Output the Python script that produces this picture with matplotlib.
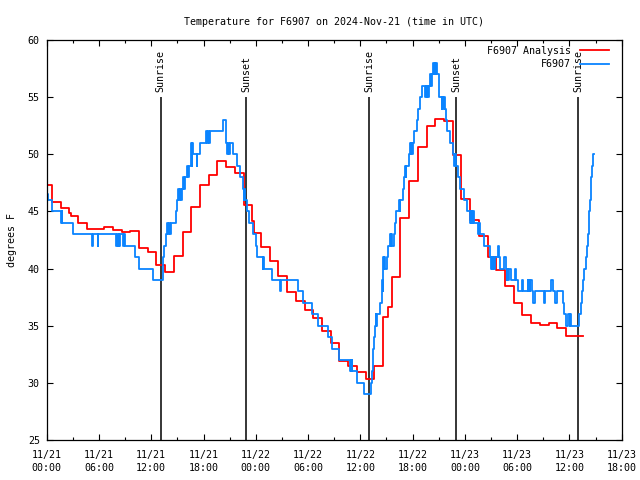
import matplotlib
matplotlib.use("Agg")
import matplotlib.pyplot as plt
import matplotlib.dates as mdates
import pandas as pd

# ---------------- data (hours after 2024-11-21 00:00 UTC) ----------------
base = pd.Timestamp("2024-11-21 00:00")

# F6907 Analysis: hourly values, each starting at hh:36
analysis_hours = [-0.4, 0.6, 1.6, 2.6, 2.75, 3.6, 4.6, 5.6, 6.6, 7.6, 8.6, 9.6,
                  10.6, 11.6, 12.6, 13.6, 14.6, 15.6, 16.6, 17.6, 18.6, 19.6,
                  20.6, 21.6, 22.6, 23.6, 23.75, 24.6, 25.6, 26.6, 27.6, 28.6,
                  29.6, 30.6, 31.6, 32.6, 33.6, 34.6, 35.6, 36.6, 37.6, 38.6,
                  39.2, 39.6, 40.6, 41.6, 42.6, 43.6, 44.6, 45.6, 46.6, 47.6,
                  48.6, 49.6, 50.6, 51.6, 52.6, 53.6, 54.6, 55.6, 56.6, 57.6,
                  58.6, 59.6, 60.6, 61.6]
analysis_temps = [47.3, 45.8, 45.3, 44.9, 44.6, 44.0, 43.5, 43.5, 43.6, 43.4, 43.2, 43.25,
                  41.8, 41.43, 40.3, 39.73, 41.1, 43.2, 45.36, 47.3, 48.2, 49.4,
                  48.86, 48.4, 45.56, 44.2, 43.1, 41.86, 40.66, 39.35, 37.92, 37.16,
                  36.38, 35.65, 34.54, 33.46, 31.92, 31.48, 30.92, 30.34, 31.48, 35.8,
                  36.6, 39.3, 44.4, 47.66, 50.67, 52.5, 53.09, 52.9, 49.94, 46.06,
                  44.25, 42.85, 41.04, 39.88, 38.5, 36.96, 35.94, 35.27, 35.07, 35.21,
                  34.77, 34.1, 34.1, 34.1]

# F6907 observations
obs_hours = [0.00, 0.11, 0.61, 1.64, 1.70, 1.76, 2.98,
             5.24, 5.32, 5.85, 5.93,
             7.96, 8.05, 8.15, 8.25, 8.33, 8.42, 8.80, 8.88, 8.99,
             10.14, 10.64, 12.24,
             13.32, 13.40, 13.50, 13.70, 13.85, 13.96, 14.05, 14.15, 14.25,
             14.84, 15.00, 15.11, 15.20, 15.30, 15.40, 15.49,
             15.69, 15.79, 15.89, 16.14, 16.20,
             16.37, 16.60, 16.66, 16.72, 16.78, 17.20, 17.26, 17.65,
             18.30, 18.44, 18.52, 18.60, 18.70, 20.28,
             20.59, 20.74, 20.82, 20.90, 21.05, 21.43, 21.88, 22.19,
             22.50, 22.60, 22.66, 22.77, 22.96, 23.19, 23.72, 24.00, 24.18,
             24.80, 24.85, 24.95, 25.83, 26.79, 26.90, 28.89, 29.45,
             30.42, 31.18, 32.33, 32.72, 33.59, 34.82, 34.88, 34.95, 35.00, 35.09,
             35.59, 36.45, 37.20, 37.35, 37.42, 37.50, 37.58, 37.70, 37.77, 37.82, 37.87,
             38.27, 38.46, 38.52, 38.55, 38.59, 38.65, 38.70, 38.76, 38.82,
             39.03, 39.22, 39.41, 39.50, 39.55, 39.60, 39.87, 39.95, 40.10,
             40.49, 40.55, 40.61, 40.87, 41.02, 41.17, 41.22, 41.28, 41.63,
             41.71, 41.78, 41.86, 41.94, 42.02, 42.17, 42.48, 42.66, 42.86, 43.05,
             43.43, 43.50, 43.63, 43.70, 43.78, 43.85, 44.00, 44.08, 44.20,
             44.39, 44.45, 44.55, 44.62, 44.70, 44.85, 45.08,
             45.35, 45.42, 45.50, 45.58, 45.73, 45.84, 45.99,
             46.33, 46.58, 46.80, 46.88, 46.96, 47.26, 47.45, 47.95, 48.30,
             48.60, 48.66, 48.72, 48.79, 48.86, 48.98, 49.05,
             49.56, 49.62, 49.68, 50.21,
             50.90, 51.00, 51.08, 51.16, 51.24, 51.32, 51.40, 51.85, 51.92,
             52.05, 52.50, 52.73, 52.80, 52.89, 52.97, 53.05, 53.27,
             53.77, 53.88, 54.04, 54.53, 54.62, 55.19, 55.27, 55.35, 55.42, 55.49,
             55.68, 55.87, 56.07, 57.10, 57.22, 57.90, 58.17, 58.40, 58.55,
             59.24, 59.39, 59.62, 59.78, 60.01, 60.08, 60.16,
             61.08, 61.31, 61.50, 61.60, 61.69, 61.88, 62.00, 62.11,
             62.23, 62.38, 62.49, 62.61, 62.76, 62.84]
obs_temps = [46.5, 46, 45, 44, 45, 44, 43,
             42, 43, 42, 43,
             42, 43, 42, 43, 42, 43, 42, 43, 42,
             41, 40, 39,
             40, 41, 42, 43, 44, 43, 44, 43, 44,
             45, 46, 47, 46, 47, 46, 47,
             48, 47, 48, 49, 48,
             49, 51, 49, 51, 50, 49, 50, 51,
             52, 51, 52, 51, 52, 53,
             51, 50, 51, 50, 51, 50, 49, 48,
             47, 46, 47, 46, 45, 44, 43, 42, 41,
             40, 41, 40, 39, 38, 39, 38, 37,
             36, 35, 34, 33, 32, 31, 32, 31, 32, 31,
             30, 29, 30, 31, 32, 33, 34, 35, 36, 35, 36,
             37, 38, 39, 38, 39, 41, 40, 41, 40,
             41, 42, 43, 42, 43, 42, 43, 44, 45,
             46, 45, 46, 47, 48, 49, 48, 49, 50,
             51, 50, 51, 50, 51, 52, 53, 54, 55, 56,
             55, 56, 55, 56, 55, 56, 57, 56, 57,
             58, 57, 58, 57, 58, 57, 55,
             54, 55, 54, 55, 54, 53, 52,
             51, 50, 49, 50, 49, 48, 47, 46, 45,
             44, 45, 44, 45, 44, 45, 44,
             43, 44, 43, 42,
             41, 40, 41, 40, 41, 40, 41, 42, 41,
             40, 41, 40, 39, 40, 39, 40, 39,
             40, 39, 38, 39, 38, 39, 38, 39, 38, 39,
             38, 37, 38, 37, 38, 39, 38, 37, 38,
             37, 36, 35, 36, 35, 36, 35,
             36, 37, 38, 39, 40, 41, 42, 43,
             45, 46, 48, 49, 50, 50]

sun_events = ["2024-11-21 13:04", "2024-11-21 22:55", "2024-11-22 13:02",
              "2024-11-22 22:58", "2024-11-23 13:02"]
sun_labels = ["Sunrise", "Sunset", "Sunrise", "Sunset", "Sunrise"]

title = "Temperature for F6907 on 2024-Nov-21 (time in UTC)"
ylabel = "degrees F"
series_labels = ["F6907 Analysis", "F6907"]
colors = ["#ff0000", "#0a84ff"]

# ---------------- plot ----------------
plt.rcParams["font.family"] = ["DejaVu Sans Mono"]
plt.rcParams["font.size"] = 7.2

fig = plt.figure(figsize=(6.4, 4.8), dpi=100)
ax = fig.add_axes([46.7 / 640, 40 / 480, 575 / 640, 400 / 480])

t_an = base + pd.to_timedelta(analysis_hours, unit="h")
t_ob = base + pd.to_timedelta(obs_hours, unit="h")

ax.step(t_an, analysis_temps, where="post", color=colors[0], lw=1.3,
        label=series_labels[0])
ax.step(t_ob, obs_temps, where="post", color=colors[1], lw=1.3,
        label=series_labels[1])

for ev, lab in zip(sun_events, sun_labels):
    te = pd.Timestamp(ev)
    ax.vlines(te, 25, 55, color="black", lw=1.1, zorder=1)
    ax.text(te, 55.45, lab, rotation=90, ha="center", va="bottom",
            fontsize=7.2)

ax.set_xlim(pd.Timestamp("2024-11-21 00:00"), pd.Timestamp("2024-11-23 18:00"))
ax.set_ylim(25, 60)
ax.set_yticks(range(25, 61, 5))

ax.xaxis.set_major_locator(mdates.HourLocator(byhour=[0, 6, 12, 18]))
ax.xaxis.set_minor_locator(mdates.HourLocator(byhour=[3, 9, 15, 21]))
ax.xaxis.set_major_formatter(mdates.DateFormatter("%m/%d\n%H:%M"))

ax.tick_params(axis="both", which="both", direction="in", top=True, right=True,
               colors="black")
ax.tick_params(axis="x", which="major", length=4.5, width=0.8, pad=7)
ax.tick_params(axis="x", which="minor", length=2.5, width=0.8)
ax.tick_params(axis="y", which="major", length=4.5, width=0.8, pad=5)
for lbl in ax.get_xticklabels():
    lbl.set_linespacing(1.35)

for sp in ax.spines.values():
    sp.set_linewidth(0.9)
    sp.set_color("black")

ax.set_title(title, fontsize=7.2, pad=11)
ax.set_ylabel(ylabel, labelpad=8)

ax.legend(loc="upper right", frameon=False, markerfirst=False,
          handlelength=2.9, handletextpad=0.9, labelspacing=0.35,
          borderaxespad=0.35, borderpad=0.4, fontsize=7.2,
          bbox_to_anchor=(1 - 5 / 575, 1 + 2 / 400))

fig.savefig("out.png", dpi=100)
